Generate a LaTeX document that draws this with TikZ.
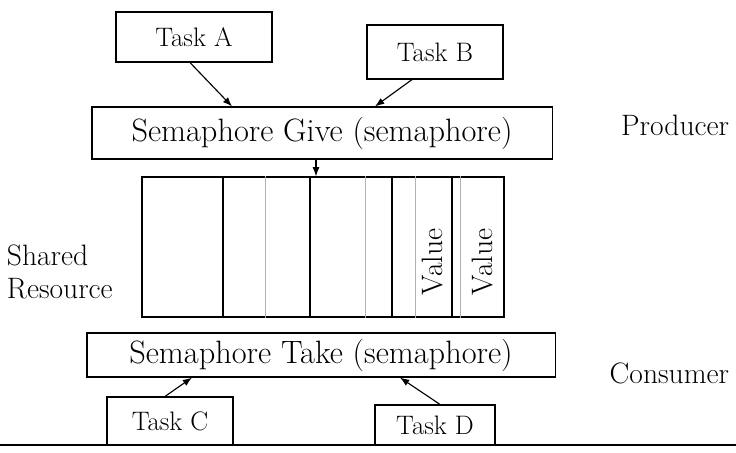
\documentclass[tikz,border=0pt]{standalone}
\usetikzlibrary{arrows.meta,positioning}
\begin{document}
\begin{tikzpicture}[>=Latex,x=0.025cm,y=-0.025cm,font=\fontsize{21}{23}\selectfont]
  \tikzstyle{box}=[draw,thick,inner sep=0pt]
  \tikzstyle{task}=[box,font=\fontsize{19}{21}\selectfont]
  \tikzstyle{call}=[box,font=\fontsize{23}{25}\selectfont]
  \tikzstyle{faint}=[gray!60,thin]
  \useasboundingbox (0,0) rectangle (736,453);
  % producers
  \node[task,minimum width=3.9cm,minimum height=1.25cm] (taskA) at (194,37) {Task A};
  \node[task,minimum width=3.4cm,minimum height=1.35cm] (taskB) at (435,52) {Task B};
  \node[call,minimum width=11.5cm,minimum height=1.3cm] (give) at (322,133) {Semaphore Give (semaphore)};
  % shared resource
  \node[box,minimum width=9.05cm,minimum height=3.5cm] (res) at (323,247) {};
  \foreach \x in {223,310,392,452}
    \draw[thick] (\x,0 |- res.north) -- (\x,0 |- res.south);
  \foreach \x in {265,365,415,460}
    \draw[faint] (\x,0 |- res.north) -- (\x,0 |- res.south);
  \node[rotate=90] (val1) at (432,262) {Value};
  \node[rotate=90] (val2) at (482,262) {Value};
  % consumers
  \node[call,minimum width=11.7cm,minimum height=1.1cm] (take) at (321,355) {Semaphore Take (semaphore)};
  \node[task,minimum width=3.15cm,minimum height=1.2cm] (taskC) at (170,421) {Task C};
  \node[task,minimum width=3.0cm,minimum height=1.0cm] (taskD) at (435,425) {Task D};
  \coordinate (lineL) at (0,445);
  \coordinate (lineR) at (736,445);
  \draw[thick] (lineL) -- (lineR);
  % side labels
  \node[align=left,anchor=west] (shared) at (2,272) {Shared\\Resource};
  \node[anchor=east] (prod) at (734,125) {Producer};
  \node[anchor=east] (cons) at (734,373) {Consumer};
  % arrows
  \draw[thick,->] (190,0 |- taskA.south) -- (232,0 |- give.north);
  \draw[thick,->] (412,0 |- taskB.south) -- (375,0 |- give.north);
  \draw[thick,->] (316,0 |- give.south) -- (316,0 |- res.north);
  \draw[thick,->] (165,0 |- taskC.north) -- (192,0 |- take.south);
  \draw[thick,->] (440,0 |- taskD.north) -- (400,0 |- take.south);
\end{tikzpicture}
\end{document}
